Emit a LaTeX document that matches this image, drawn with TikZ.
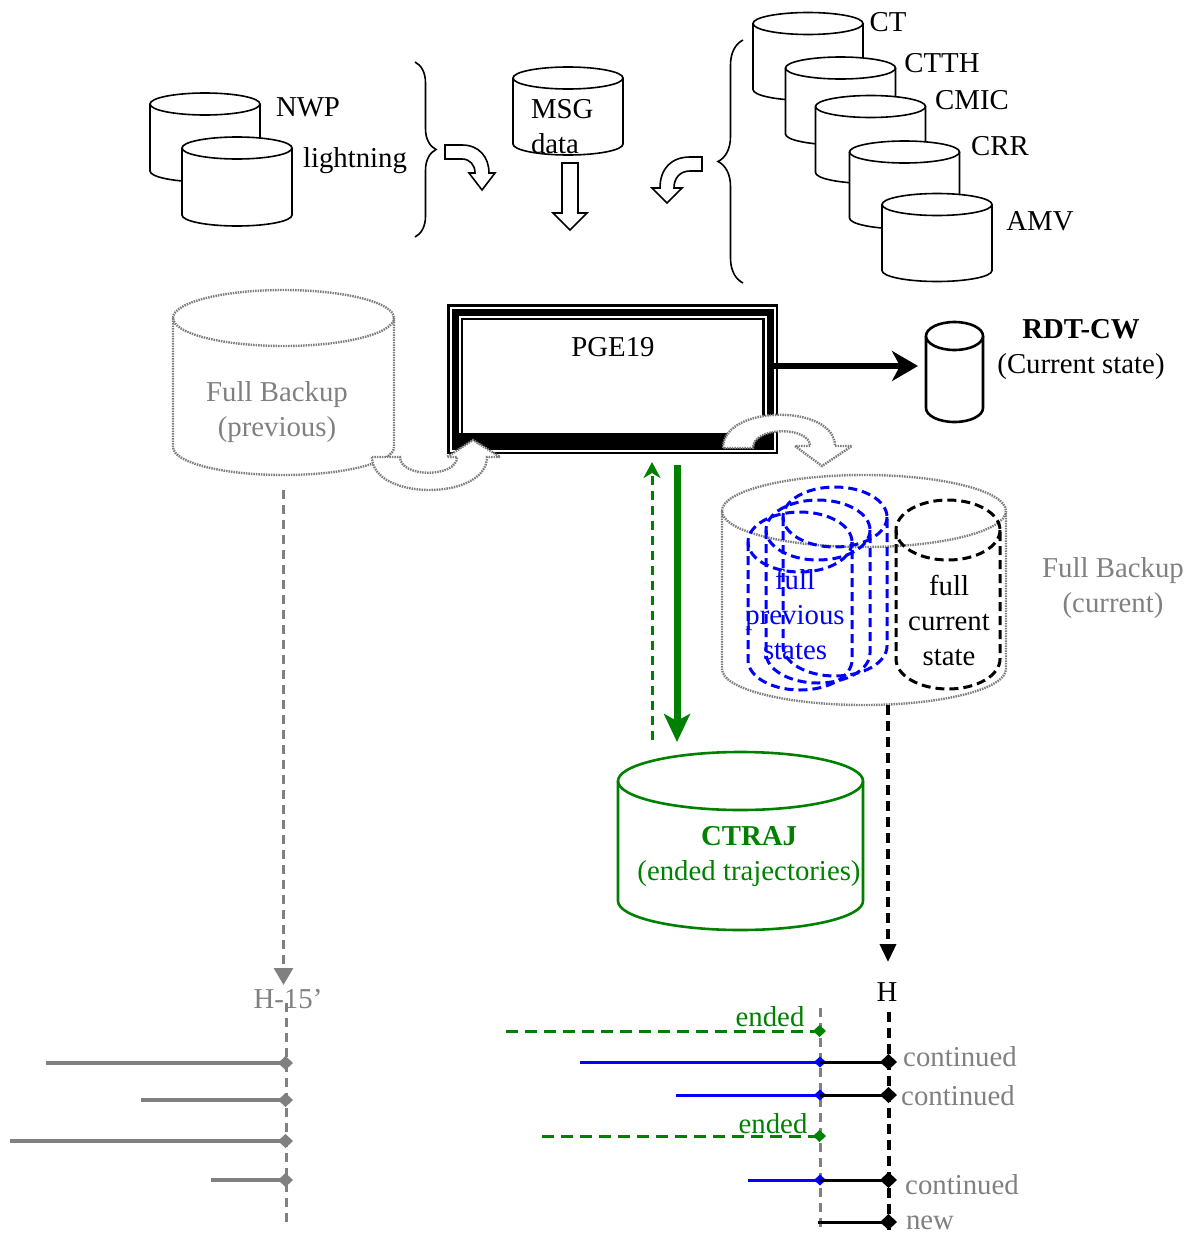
\documentclass[tikz,border=0pt]{standalone}
\usepackage{fontspec}
\setmainfont{Liberation Serif}
\usetikzlibrary{arrows.meta,decorations.pathreplacing}

\definecolor{trajgreen}{RGB}{0,128,0}
\definecolor{midgray}{RGB}{128,128,128}
\definecolor{dotgray}{RGB}{125,125,125}

% database drum: style, name, centre x, centre y, width, height, end radius
\newcommand{\dbcyl}[7][draw]{%
    \node[minimum width=#5pt, minimum height=#6pt] (#2) at (#3,#4) {};
    \draw[#1] (#3-#5/2,#4-#6/2+#7) -- (#3-#5/2,#4+#6/2-#7)
        .. controls (#3-#5/2,#4+#6/2-0.4477*#7) and (#3-0.2762*#5,#4+#6/2) .. (#3,#4+#6/2)
        .. controls (#3+0.2762*#5,#4+#6/2) and (#3+#5/2,#4+#6/2-0.4477*#7) .. (#3+#5/2,#4+#6/2-#7)
        -- (#3+#5/2,#4-#6/2+#7);
    \draw[#1] (#3,#4-#6/2+#7) ellipse (#5/2 and #7);
}

\begin{document}
\begin{tikzpicture}[
        x=1pt, y=-1pt,
        every node/.style={font=\fontsize{28.8}{35}\selectfont, inner sep=0pt, outer sep=0pt},
        db/.style={draw, fill=white, line width=1.6pt},
        dotdb/.style={draw=dotgray, line width=2.4pt, dash pattern=on 1.5pt off 1pt},
        dashdb/.style={line width=3pt, dash pattern=on 9pt off 5pt},
        block/.style={draw, fill=white, line width=1.6pt, line join=miter},
        dotblock/.style={draw=dotgray, fill=white, line width=2.4pt, dash pattern=on 1.5pt off 1pt},
        curly/.style={decorate, decoration={brace, amplitude=#1}, line width=1.6pt},
        pgebox/.style={rectangle, minimum width=315pt, minimum height=134pt,
                preaction={fill=white, draw, line width=16pt},
                preaction={draw=white, line width=11pt},
                draw, line width=7pt},
        graydash/.style={midgray, line width=3pt, dash pattern=on 9pt off 6pt},
        blackdash/.style={line width=3.5pt, dash pattern=on 10pt off 6pt},
        trackgray/.style={midgray, line width=4pt, -{Diamond[length=15pt,width=14pt]}},
        trackblue/.style={blue, line width=3pt, -{Diamond[length=12pt,width=11pt]}},
        trackblack/.style={line width=3pt, -{Diamond[length=17pt,width=16pt]}},
        trackended/.style={trajgreen, line width=3pt, dash pattern=on 12pt off 7pt, -{Diamond[length=13pt,width=12pt]}}
    ]
    \useasboundingbox (0,0) rectangle (1196,1234);

    % inputs
    \dbcyl[db]{nwp}{205}{137.5}{110}{89}{11}
    \dbcyl[db]{lightning}{237}{181.5}{110}{89}{11}
    \node[anchor=base] (nwptxt) at (308,116) {NWP};
    \node[anchor=base] (lightningtxt) at (355,167) {lightning};
    \draw[curly=21pt] (415,62) -- (415,237);

    \dbcyl[db]{msg}{568}{111}{110}{88}{11}
    \node[anchor=west, align=left] (msgtxt) at (531,127) {MSG\\data};

    \dbcyl[db]{ct}{808}{56.5}{110}{88}{11}
    \dbcyl[db]{ctth}{840.5}{101}{110}{88}{11}
    \dbcyl[db]{cmic}{870.5}{139.5}{110}{88}{11}
    \dbcyl[db]{crr}{904.5}{185}{110}{88}{11}
    \dbcyl[db]{amv}{937}{237.5}{110}{88}{11}
    \node[anchor=base] (cttxt) at (888,31) {CT};
    \node[anchor=base] (ctthtxt) at (942,72) {CTTH};
    \node[anchor=base] (cmictxt) at (972,109) {CMIC};
    \node[anchor=base] (crrtxt) at (1000,155) {CRR};
    \node[anchor=base] (amvtxt) at (1040,230) {AMV};
    \draw[curly=25pt] (743,283) -- (743,40);

    % hollow arrows into PGE19
    \draw[block] (445,145) -- (462,145) .. controls (479,145) and (489,157) .. (489,173) -- (495,173)
        -- (482,190) -- (469,173) -- (475,173) .. controls (475,165) and (470,159) .. (462,159) -- (445,159) -- cycle;
    \draw[block] (562,163) -- (578,163) -- (578,213) -- (587,213) -- (570,230) -- (553,213) -- (562,213) -- cycle;
    \draw[block] (702,157) -- (690,157) .. controls (672,157) and (660,168) .. (660,188) -- (652,188)
        -- (667,203) -- (682,188) -- (674,188) .. controls (674,178) and (680,171) .. (690,171) -- (702,171) -- cycle;

    % backup (previous) and PGE19
    \dbcyl[dotdb]{fbprev}{283.5}{382.5}{221}{185}{28}
    \node[text=midgray, align=center] (fbprevtxt) at (277,412) {Full Backup\\(previous)};

    \node[pgebox] (pge) at (612.5,379) {};
    \fill (455,433) rectangle (770,446);
    \node[anchor=base] (pgetxt) at (613,356) {PGE19};

    \draw[dotblock] (372,457) .. controls (372,501) and (487,501) .. (487,457) -- (500,457) -- (473,440)
        -- (447,457) -- (457,457) .. controls (457,478) and (400,478) .. (400,457) -- cycle;
    \draw[dotblock] (723,448) .. controls (723,404) and (835,404) .. (835,446) -- (852,446) -- (822,466)
        -- (795,446) -- (810,446) .. controls (810,426) and (753,426) .. (753,448) -- cycle;

    % current state output
    \dbcyl[db, line width=2.6pt]{rdt}{954.5}{372}{57}{100}{14}
    \node[align=center] (rdttxt) at (1081,350) {\textbf{RDT-CW}\\(Current state)};
    \coordinate (rdttip) at (918,366);
    \draw[line width=6pt, -{Stealth[length=26pt,width=30pt,inset=8pt]}] (pge.east |- rdttip) -- (rdttip);

    % backup (current)
    \dbcyl[dotdb]{fbcur}{864}{590}{284}{230}{36}
    \dbcyl[dashdb, draw=blue]{prev1}{800}{601}{104}{178}{30}
    \dbcyl[dashdb, draw=blue]{prev2}{818}{591.5}{104}{183}{30}
    \dbcyl[dashdb, draw=blue]{prev3}{835}{581.5}{104}{189}{30}
    \dbcyl[dashdb, draw=black]{curstate}{948}{594.5}{104}{189}{30}
    \node[text=blue, align=center] (prevtxt) at (795,614) {full\\previous\\states};
    \node[align=center] (curtxt) at (949,620) {full\\current\\state};
    \node[text=midgray, align=center] (fbcurtxt) at (1113,588) {Full Backup\\(current)};

    % ended trajectories
    \dbcyl[draw=trajgreen, line width=2.6pt]{ctraj}{740.5}{841}{245}{178}{29}
    \node[text=trajgreen, align=center] (ctrajtxt) at (749,857) {\textbf{CTRAJ}\\(ended trajectories)};
    \coordinate (gsolid) at (677,465);
    \coordinate (gsolidend) at (677,742);
    \coordinate (gdash) at (652,740);
    \coordinate (gdashend) at (652,462);
    \draw[trajgreen, line width=7pt, -{Stealth[length=28pt,width=26pt,inset=7pt]}] (gsolid) -- (gsolidend);
    \draw[trajgreen, line width=3pt, dash pattern=on 9pt off 6pt, -{Stealth[length=16pt,width=17pt,inset=5pt]}] (gdash) -- (gdashend);

    % time line H-15'
    \coordinate (hprevtip) at (283.5,985);
    \draw[graydash, -{Triangle[length=17pt,width=19pt]}] ([yshift=-15pt]fbprev.south) -- (hprevtip);
    \node[text=midgray, anchor=base] (hprev) at (288,1008) {H-15’};
    \draw[graydash] (286,1003) -- (286,1222);
    \draw[trackgray] (46,1063) -- (293,1063);
    \draw[trackgray] (141,1100) -- (293,1100);
    \draw[trackgray] (10,1141) -- (293,1141);
    \draw[trackgray] (211,1180) -- (293,1180);

    % time line H
    \coordinate (hnowtip) at (888,962);
    \draw[blackdash, -{Triangle[length=18pt,width=16pt]}] (hnowtip |- fbcur.south) -- (hnowtip);
    \node[anchor=base] (hnow) at (887,1001) {H};
    \draw[graydash] (820,1008) -- (820,1228);
    \draw[blackdash] (889,1012) -- (889,1234);

    \draw[trackended] (506,1031) -- (826,1031);
    \draw[trackblue] (580,1062) -- (826,1062);
    \draw[trackblack] (820,1062) -- (897,1062);
    \draw[trackblue] (676,1095) -- (826,1095);
    \draw[trackblack] (820,1095) -- (897,1095);
    \draw[trackended] (542,1136) -- (826,1136);
    \draw[trackblue] (748,1180) -- (826,1180);
    \draw[trackblack] (820,1180) -- (897,1180);
    \draw[trackblack] (818,1222) -- (897,1222);

    \node[text=trajgreen, anchor=base] (ended1) at (770,1026) {ended};
    \node[text=trajgreen, anchor=base] (ended2) at (773,1133) {ended};
    \node[text=midgray, anchor=base] (cont1) at (960,1066) {continued};
    \node[text=midgray, anchor=base] (cont2) at (958,1105) {continued};
    \node[text=midgray, anchor=base] (cont3) at (962,1194) {continued};
    \node[text=midgray, anchor=base] (newtxt) at (930,1229) {new};
\end{tikzpicture}
\end{document}
